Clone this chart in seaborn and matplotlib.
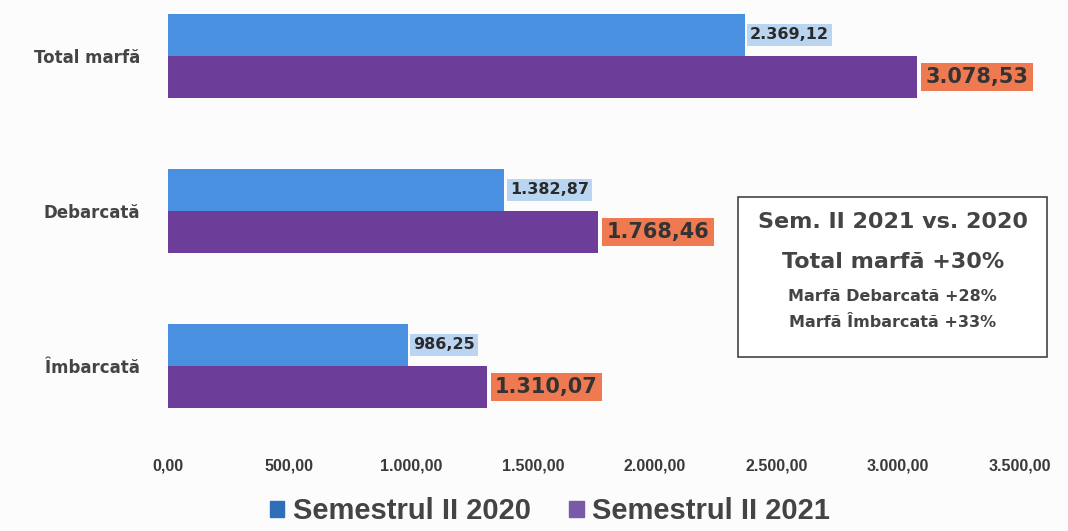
import pandas as pd
import matplotlib.pyplot as plt
import seaborn as sns

# Chart values (thousand tonnes)
categories = ['Total marfă', 'Debarcată', 'Îmbarcată']
values_2020 = [2369.12, 1382.87, 986.25]
values_2021 = [3078.53, 1768.46, 1310.07]
series = ['Semestrul II 2020', 'Semestrul II 2021']
x_ticks = [0, 500, 1000, 1500, 2000, 2500, 3000, 3500]


def ro_fmt(v):
    # Romanian number format: 2.369,12
    s = f'{v:,.2f}'
    return s.replace(',', 'X').replace('.', ',').replace('X', '.')


df = pd.DataFrame({
    'Categorie': categories * 2,
    'Valoare': values_2020 + values_2021,
    'Perioada': [series[0]] * 3 + [series[1]] * 3,
})

sns.set_style('white')
plt.rcParams['font.family'] = ['DejaVu Sans']

fig = plt.figure(figsize=(10.68, 5.31), dpi=100)
fig.patch.set_facecolor('#fcfcfc')
ax = fig.add_axes([0.157, 0.165, 0.798, 0.835])
ax.set_facecolor('#fcfcfc')

palette = {series[0]: '#4a90e0', series[1]: '#6c3d99'}
sns.barplot(data=df, y='Categorie', x='Valoare', hue='Perioada', orient='h',
            palette=palette, width=0.54, saturation=1, linewidth=0,
            ax=ax, legend=False)

ax.set_xlim(0, 3500)
ax.set_ylim(2.5, -0.36)
ax.set_xlabel('')
ax.set_ylabel('')
for s in ax.spines.values():
    s.set_visible(False)

ax.set_xticks(x_ticks)
ax.set_xticklabels([ro_fmt(t) for t in x_ticks], fontsize=11.5, fontweight='bold',
                   color='#3a3a3a', family='Liberation Sans')
ax.tick_params(axis='x', length=0, pad=11)
ax.tick_params(axis='y', length=0, pad=20)
for lab in ax.get_yticklabels():
    lab.set_fontsize(12)
    lab.set_fontweight('bold')
    lab.set_color('#444444')

# value labels
containers = ax.containers
ax.bar_label(containers[0], labels=[ro_fmt(v) for v in values_2020], padding=4,
             fontsize=11.5, fontweight='bold', color='#2a2a2a',
             bbox=dict(boxstyle='square,pad=0.2', facecolor='#b9d5f2', edgecolor='none'))
ax.bar_label(containers[1], labels=[ro_fmt(v) for v in values_2021], padding=6,
             fontsize=15, fontweight='bold', color='#333333',
             bbox=dict(boxstyle='square,pad=0.2', facecolor='#ef7a52', edgecolor='none'))

# summary box
box = plt.Rectangle((0.691, 0.328), 0.289, 0.301, transform=fig.transFigure,
                    facecolor='white', edgecolor='#444444', linewidth=1.2)
fig.patches.append(box)
cx = 0.836
fig.text(cx, 0.582, 'Sem. II 2021 vs. 2020', ha='center', va='center',
         fontsize=16, fontweight='bold', color='#444444')
fig.text(cx, 0.507, 'Total marfă +30%', ha='center', va='center',
         fontsize=16, fontweight='bold', color='#444444')
fig.text(cx, 0.441, 'Marfă Debarcată +28%', ha='center', va='center',
         fontsize=11.5, fontweight='bold', color='#444444')
fig.text(cx, 0.392, 'Marfă Îmbarcată +33%', ha='center', va='center',
         fontsize=11.5, fontweight='bold', color='#444444')

# legend
handles = [plt.Rectangle((0, 0), 1, 1, color='#2f6eb8'),
           plt.Rectangle((0, 0), 1, 1, color='#7a5aa8')]
fig.legend(handles, series, loc='center', bbox_to_anchor=(0.515, 0.037), ncol=2,
           frameon=False, handlelength=0.5, handleheight=0.5, handletextpad=0.3,
           columnspacing=1.3,
           prop={'family': 'Liberation Sans', 'weight': 'bold', 'size': 21})
for t in fig.legends[0].get_texts():
    t.set_color('#444444')

fig.savefig('out.png', dpi=100, facecolor=fig.get_facecolor())
